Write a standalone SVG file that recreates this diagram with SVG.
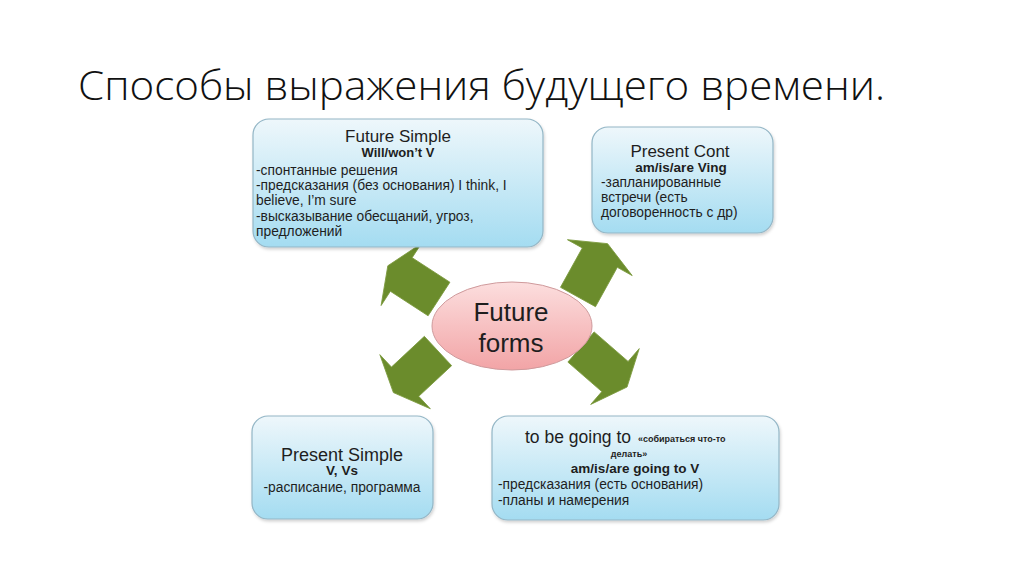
<svg xmlns="http://www.w3.org/2000/svg" width="1024" height="574" viewBox="0 0 1024 574">
<defs>
  <linearGradient id="boxg" x1="0" y1="0" x2="0" y2="1">
    <stop offset="0" stop-color="#eef7fb"/>
    <stop offset="1" stop-color="#a4dcf1"/>
  </linearGradient>
  <linearGradient id="ellg" x1="0" y1="0" x2="0" y2="1">
    <stop offset="0" stop-color="#fcdede"/>
    <stop offset="1" stop-color="#f2a4a6"/>
  </linearGradient>
  <filter id="sh" x="-10%" y="-10%" width="120%" height="125%">
    <feDropShadow dx="1" dy="2" stdDeviation="1.5" flood-color="#000" flood-opacity="0.18"/>
  </filter>
  <polygon id="arr" points="0,-20 45,-20 45,-37 61,0 45,37 45,20 0,20"/>
</defs>
<style>
  .box { fill: url(#boxg); stroke: #93b6c6; stroke-width: 1.2; filter: url(#sh); }
  .t { font-family: "Liberation Sans", Arial, sans-serif; fill: #1e1e1e; }
  .h { font-size: 17px; }
  .b { font-size: 13.5px; font-weight: bold; }
  .n { font-size: 13.8px; }
  .arrow { fill: #6b8c2c; stroke: #7c9a3e; stroke-width: 0.8; }
</style>
<rect width="1024" height="574" fill="#ffffff"/>

<text x="78" y="100" font-family="'Open Sans', 'Liberation Sans', sans-serif" font-weight="300" font-size="41" textLength="807" lengthAdjust="spacingAndGlyphs" fill="#111">Способы выражения будущего времени.</text>

<g id="connectors">
  <use href="#arr" class="arrow" transform="translate(439,299) rotate(213)"/>
  <use href="#arr" class="arrow" transform="translate(578,297) rotate(-61)"/>
  <use href="#arr" class="arrow" transform="translate(438,351) rotate(137)"/>
  <use href="#arr" class="arrow" transform="translate(581,347) rotate(41)"/>
</g>

<g id="future-forms">
  <ellipse cx="512" cy="326" rx="80" ry="44" fill="url(#ellg)" stroke="#cf9a9c" stroke-width="1"/>
  <text x="511" y="321" class="t" font-size="26" text-anchor="middle">Future</text>
  <text x="511" y="352" class="t" font-size="26" text-anchor="middle">forms</text>
</g>

<g id="future-simple">
  <rect x="253" y="119" width="290" height="128" rx="16" class="box"/>
  <text x="398" y="142" class="t h" text-anchor="middle">Future Simple</text>
  <text x="398" y="157" class="t" font-size="13" font-weight="bold" text-anchor="middle">Will/won’t V</text>
  <text x="256" y="175" class="t n">-спонтанные решения</text>
  <text x="256" y="190" class="t n">-предсказания (без основания) I think, I</text>
  <text x="256" y="205" class="t n">believe, I’m sure</text>
  <text x="256" y="221" class="t n">-высказывание обесщаний, угроз,</text>
  <text x="256" y="236" class="t n">предложений</text>
</g>

<g id="present-cont">
  <rect x="592" y="127" width="181" height="106" rx="16" class="box"/>
  <text x="680" y="157" class="t h" text-anchor="middle">Present Cont</text>
  <text x="681" y="172" class="t b" text-anchor="middle">am/is/are Ving</text>
  <text x="601" y="187" class="t n">-запланированные</text>
  <text x="601" y="202" class="t n">встречи (есть</text>
  <text x="601" y="217" class="t n">договоренность с др)</text>
</g>

<g id="present-simple">
  <rect x="252" y="416" width="181" height="103" rx="16" class="box"/>
  <text x="342" y="461" class="t" font-size="18" text-anchor="middle">Present Simple</text>
  <text x="342" y="475" class="t b" text-anchor="middle">V, Vs</text>
  <text x="342" y="492" class="t n" text-anchor="middle">-расписание, программа</text>
</g>

<g id="going-to">
  <rect x="492" y="416" width="287" height="104" rx="16" class="box"/>
  <text x="525" y="443" class="t" font-size="17.5">to be going to</text>
  <text x="638" y="442" class="t" font-size="9" font-weight="bold">«собираться что-то</text>
  <text x="629" y="457" class="t" font-size="9" font-weight="bold" text-anchor="middle">делать»</text>
  <text x="635" y="473" class="t b" text-anchor="middle">am/is/are going to V</text>
  <text x="498" y="489" class="t n">-предсказания (есть основания)</text>
  <text x="498" y="505" class="t n">-планы и намерения</text>
</g>
</svg>
